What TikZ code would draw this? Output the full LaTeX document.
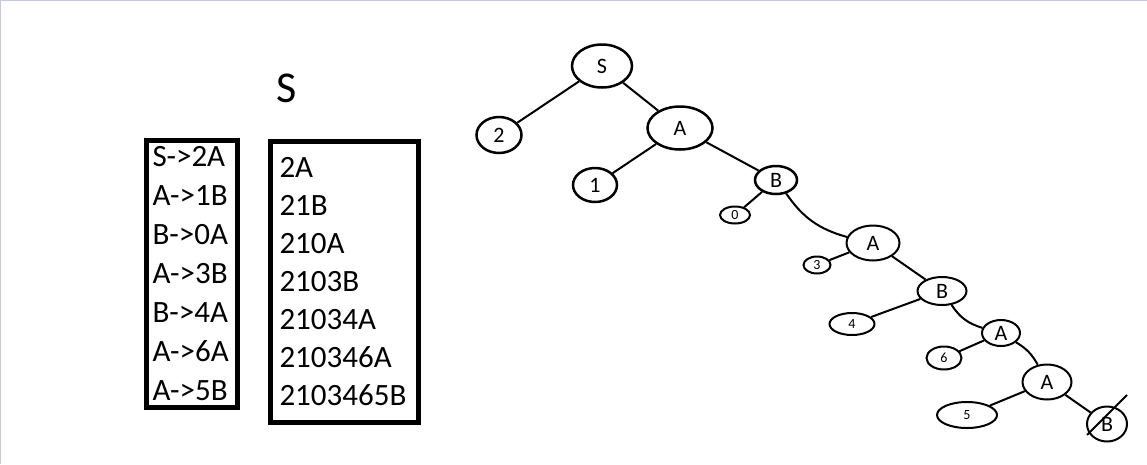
\documentclass[tikz,border=0pt]{standalone}
\usepackage{fontspec}
\setmainfont{Carlito}
\usepackage{tikz}
\usetikzlibrary{shapes.geometric}
\definecolor{canvasedge}{HTML}{C5CADB}

\begin{document}
\begin{tikzpicture}[x=1pt, y=-1pt,
  listbox/.style={draw, line width=5pt, anchor=north west, align=left, font=\fontsize{31}{39}\selectfont},
  tnode/.style={draw, ellipse, line width=2.5pt, inner sep=0pt, font=\fontsize{22}{22}\selectfont},
  leaf/.style={tnode, line width=2pt, font=\fontsize{14}{14}\selectfont},
  edge/.style={line width=2pt}
]
\useasboundingbox (0,0) rectangle (1147,464);
\draw[canvasedge, line width=2pt] (0,464) -- (0,0) -- (1147,0);

% productions and derivation
\node[font=\fontsize{44}{44}\selectfont] (start) at (287,88) {S};
\node[listbox, minimum width=91, minimum height=267, text width=79, inner xsep=6pt] (rules) at (144,138)
  {S->2A\\A->1B\\B->0A\\A->3B\\B->4A\\A->6A\\A->5B};
\node[listbox, minimum width=148, minimum height=281, text width=130, inner xsep=9pt,
  font=\fontsize{31}{38}\selectfont] (steps) at (268,139)
  {2A\\21B\\210A\\2103B\\21034A\\210346A\\2103465B};

% parse tree
\node[tnode, minimum width=60, minimum height=43] (s) at (602,66) {S};
\node[tnode, minimum width=45, minimum height=36] (n2) at (499,135) {2};
\node[tnode, minimum width=65, minimum height=43] (a1) at (680,128) {A};
\node[tnode, minimum width=44, minimum height=34] (n1) at (595,185) {1};
\node[tnode, minimum width=42, minimum height=28] (b1) at (776,180) {B};
\node[leaf, minimum width=30, minimum height=17] (n0) at (735,215) {0};
\node[tnode, line width=2pt, minimum width=53, minimum height=35] (a2) at (873,243) {A};
\node[leaf, minimum width=27, minimum height=17] (n3) at (817,265) {3};
\node[tnode, line width=2pt, minimum width=49, minimum height=28] (b2) at (942,291) {B};
\node[leaf, minimum width=45, minimum height=22] (n4) at (852,324) {4};
\node[tnode, line width=2pt, minimum width=38, minimum height=26] (a3) at (1001,333) {A};
\node[leaf, minimum width=35, minimum height=23] (n6) at (944,358) {6};
\node[tnode, line width=2pt, minimum width=49, minimum height=35] (a4) at (1047,382) {A};
\node[leaf, minimum width=60, minimum height=26] (n5) at (967,415) {5};
\node[tnode, line width=2pt, minimum width=40, minimum height=35] (b3) at (1107,424) {B};

\draw[edge] (s) -- (n2);
\draw[edge] (s) -- (a1);
\draw[edge] (a1) -- (n1);
\draw[edge] (a1) -- (b1);
\draw[edge] (b1) -- (n0);
\draw[edge] (b1) to[bend right=20] (a2);
\draw[edge] (a2) -- (n3);
\draw[edge] (a2) -- (b2);
\draw[edge] (b2) -- (n4);
\draw[edge] (b2) to[bend right=20] (a3);
\draw[edge] (a3) -- (n6);
\draw[edge] (a3) to[bend left=15] (a4);
\draw[edge] (a4) -- (n5);
\draw[edge] (a4) -- (b3);
\draw[edge] ([shift={(20,-29)}]b3.center) -- ([shift={(-20,11)}]b3.center);
\end{tikzpicture}
\end{document}
